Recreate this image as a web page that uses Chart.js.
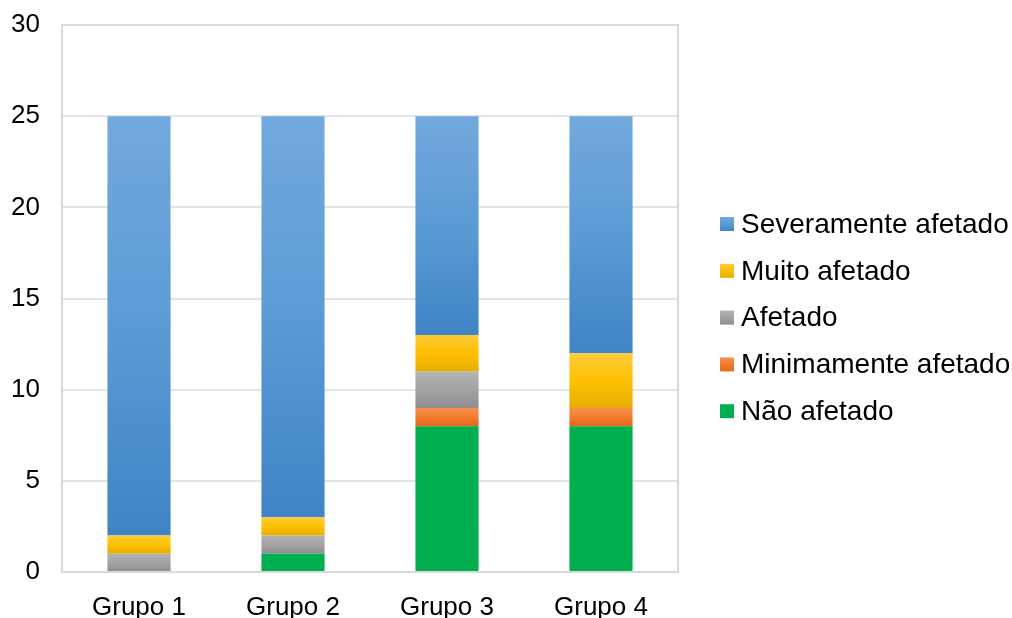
<!DOCTYPE html>
<html lang="pt">
<head>
<meta charset="utf-8">
<title>Grau de afetação por grupo</title>
<script src="https://cdn.jsdelivr.net/npm/chart.js@4/dist/chart.umd.min.js"></script>
<style>
  html, body { margin: 0; padding: 0; background: #ffffff; }
  #wrap { position: relative; width: 1012px; height: 618px; }
</style>
</head>
<body>
<div id="wrap"><canvas id="chart" width="1012" height="618"></canvas></div>
<script>
// Categories and series (counts per group, stacked bottom to top)
const grupos = ['Grupo 1', 'Grupo 2', 'Grupo 3', 'Grupo 4'];
const naoAfetado = [0, 1, 8, 8];
const minimamenteAfetado = [0, 0, 1, 1];
const afetado = [1, 1, 2, 0];
const muitoAfetado = [1, 1, 2, 3];
const severamenteAfetado = [23, 22, 12, 13];
const yTicks = [0, 5, 10, 15, 20, 25, 30];

const FONT = '"Liberation Sans", Arial, sans-serif';

// Vertical gradient stops per series: [top, middle, bottom]
const palettes = {
  'Não afetado': ['#00b050', '#00b050', '#00ad4e'],
  'Minimamente afetado': ['#f68f50', '#f37c2d', '#e2681a'],
  'Afetado': ['#b3b3b3', '#a3a3a3', '#8e8e8e'],
  'Muito afetado': ['#ffca3c', '#ffc000', '#e4ad00'],
  'Severamente afetado': ['#73a9de', '#5b9bd5', '#3f84c5']
};

const series = [
  ['Não afetado', naoAfetado],
  ['Minimamente afetado', minimamenteAfetado],
  ['Afetado', afetado],
  ['Muito afetado', muitoAfetado],
  ['Severamente afetado', severamenteAfetado]
];

function stackStart(dsIndex, i) {
  let s = 0;
  for (let k = 0; k < dsIndex; k++) s += series[k][1][i];
  return s;
}

function gradientFill(label) {
  const stops = palettes[label];
  return (ctx) => {
    const chart = ctx.chart;
    const y = chart.scales && chart.scales.y;
    if (ctx.type !== 'data' || !y || y.bottom === undefined) return stops[1];
    const start = stackStart(ctx.datasetIndex, ctx.dataIndex);
    const end = start + (ctx.raw || 0);
    const y0 = y.getPixelForValue(end);
    const y1 = y.getPixelForValue(start);
    if (!isFinite(y0) || !isFinite(y1) || y1 - y0 < 1) return stops[1];
    const g = chart.ctx.createLinearGradient(0, y0, 0, y1);
    g.addColorStop(0, stops[0]);
    g.addColorStop(0.5, stops[1]);
    g.addColorStop(1, stops[2]);
    return g;
  };
}

// Border around the plot area
const plotFrame = {
  id: 'plotFrame',
  beforeDatasetsDraw(chart) {
    const { ctx, chartArea: a } = chart;
    ctx.save();
    ctx.strokeStyle = '#d9d9d9';
    ctx.lineWidth = 2;
    ctx.strokeRect(a.left, a.top, a.right - a.left, a.bottom - a.top);
    ctx.restore();
  }
};

// Legend listed from the top segment down
const sideLegend = {
  id: 'sideLegend',
  afterDraw(chart) {
    const { ctx } = chart;
    const items = chart.data.datasets.slice().reverse();
    const x = 720, box = 14, y0 = 224, step = 46.8;
    ctx.save();
    ctx.font = '28px ' + FONT;
    ctx.textBaseline = 'middle';
    ctx.textAlign = 'left';
    items.forEach((ds, i) => {
      const cy = y0 + i * step;
      const stops = palettes[ds.label];
      const g = ctx.createLinearGradient(0, cy - box / 2, 0, cy + box / 2);
      g.addColorStop(0, stops[0]);
      g.addColorStop(0.5, stops[1]);
      g.addColorStop(1, stops[2]);
      ctx.fillStyle = g;
      ctx.fillRect(x, cy - box / 2, box, box);
      ctx.fillStyle = '#000000';
      ctx.fillText(ds.label, x + 21, cy + 1);
    });
    ctx.restore();
  }
};

new Chart(document.getElementById('chart'), {
  type: 'bar',
  data: {
    labels: grupos,
    datasets: series.map(([label, values]) => ({
      label,
      data: values,
      backgroundColor: gradientFill(label),
      borderWidth: 0,
      categoryPercentage: 1,
      barPercentage: 0.41
    }))
  },
  options: {
    responsive: false,
    animation: false,
    events: [],
    layout: { padding: { top: 25, right: 334, bottom: 0, left: 0 } },
    plugins: { legend: { display: false }, tooltip: { enabled: false } },
    scales: {
      x: {
        stacked: true,
        grid: { display: false, drawTicks: false },
        border: { display: false },
        ticks: {
          color: '#000000',
          padding: 20,
          font: { family: FONT, size: 26 }
        },
        afterFit(scale) { scale.height = 46; }
      },
      y: {
        stacked: true,
        min: 0,
        max: 30,
        afterBuildTicks(scale) { scale.ticks = yTicks.map(v => ({ value: v })); },
        grid: { color: '#e1e5ea', lineWidth: 2, drawTicks: false },
        border: { display: false },
        ticks: {
          color: '#000000',
          padding: 22,
          font: { family: FONT, size: 26 }
        },
        afterFit(scale) {
          scale.width = 62;
          scale.paddingTop = 0;
          scale.paddingBottom = 0;
        }
      }
    }
  },
  plugins: [plotFrame, sideLegend]
});
</script>
</body>
</html>
